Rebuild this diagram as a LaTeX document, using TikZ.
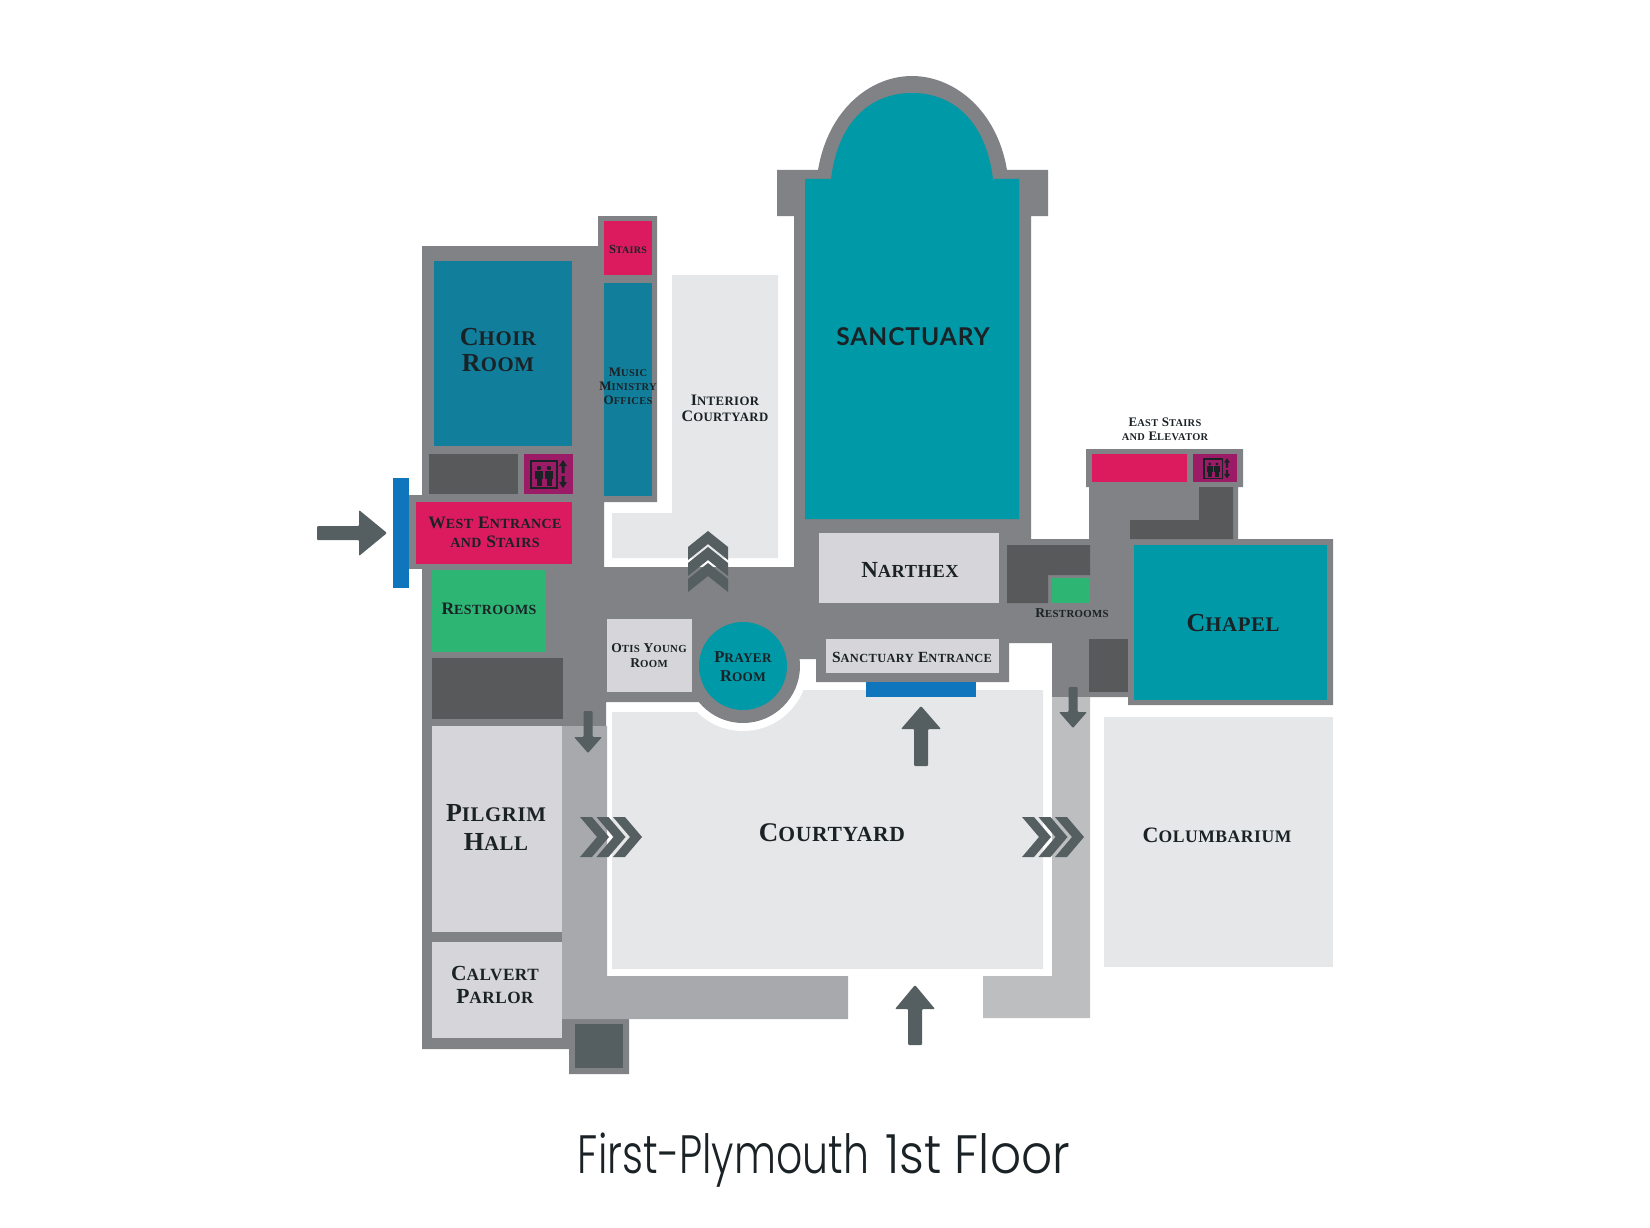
\documentclass[tikz,border=0pt]{standalone}
\usepackage{fontspec}
\setmainfont[LetterSpace=3]{Liberation Serif}
\newfontfamily\titlefont[FakeStretch=.76]{Poppins Light}
\newfontfamily\titlefontb[FakeStretch=.9]{Poppins Light}
\newfontfamily\flarefont[LetterSpace=4]{Lato}
\definecolor{wallgray}{HTML}{808285}
\definecolor{aislegray}{HTML}{A7A9AC}
\definecolor{aislepale}{HTML}{BCBEC0}
\definecolor{darkgray}{HTML}{58595B}
\definecolor{slategray}{HTML}{555F61}
\definecolor{roomlight}{HTML}{D6D5D9}
\definecolor{yardlight}{HTML}{E6E7E8}
\definecolor{teal1}{HTML}{0099A8}
\definecolor{teal2}{HTML}{117E9B}
\definecolor{pinkred}{HTML}{DB1B5E}
\definecolor{liftplum}{HTML}{9B1B66}
\definecolor{restgreen}{HTML}{2DB574}
\definecolor{doorblue}{HTML}{0F75BC}
\definecolor{inkdark}{HTML}{1A2226}
\makeatletter
\newcommand{\smc}[1]{{\fontsize{\dimexpr 0.8\dimexpr\f@size pt\relax\relax}{0pt}\selectfont #1}}
\makeatother
\newcommand{\blockarrow}[7]{\fill[slategray,rounded corners=1pt,shift={(#1,#2)},rotate=#3] (0,-#7)--(#4-#5,-#7)--(#4-#5,-#6)--(#4,0)--(#4-#5,#6)--(#4-#5,#7)--(0,#7)--cycle;}
\tikzset{
    lbl/.style n args={2}{text=inkdark,align=center,inner sep=0pt,font=\bfseries\fontsize{#1}{#2}\selectfont},
    elevicon/.pic={
        \draw[inkdark,line width=1.1pt] (0,0) rectangle (26,27);
        \foreach \px in {8,18} {
            \fill[inkdark] (\px,7) circle (2.2);
            \fill[inkdark] (\px-4,10) rectangle (\px+4,18);
            \fill[inkdark] (\px-2.5,18) rectangle (\px+2.5,25);
        }
        \fill[inkdark] (32,-1)--(36,5)--(33.5,5)--(33.5,12)--(30.5,12)--(30.5,5)--(28,5)--cycle;
        \fill[inkdark] (32,27)--(36,21)--(33.5,21)--(33.5,15)--(30.5,15)--(30.5,21)--(28,21)--cycle;
    }
}
\begin{document}
\begin{tikzpicture}[x=1pt,y=-1pt]
    \useasboundingbox (0,0) rectangle (1650,1228);

    \fill[yardlight] (672,275)--(778,275)--(778,558)--(612,558)--(612,513)--(672,513)--cycle;
    \fill[yardlight] (612,712)--(760,712)--(760,690)--(1043,690)--(1043,969)--(612,969)--cycle;
    \fill[yardlight] (1104,717) rectangle (1333,967);
    \fill[white] (743,666) circle (65);

    \fill[wallgray] (422,246)--(598,246)--(598,216)--(657,216)--(657,502)--(604,502)--(604,567)--(794,567)
        --(794,216)--(777,216)--(777,170)--(818,170)
        .. controls (828,110) and (870,76) .. (912,76)
        .. controls (954,76) and (997,110) .. (1007,170)
        --(1048,170)--(1048,216)--(1031,216)--(1031,539)--(1089,539)--(1089,487)--(1086,487)--(1086,449)
        --(1243,449)--(1243,487)--(1238,487)--(1238,539)--(1333,539)--(1333,705)--(1128,705)--(1128,697)
        --(1052,697)--(1052,643)--(1009,643)--(1009,682)--(816,682)--(816,659)--(797,659)--(743,666)
        --(699,702)--(606,702)--(606,726)--(562,726)--(562,1019)--(629,1019)--(629,1074)--(569,1074)
        --(569,1049)--(422,1049)--cycle;
    \fill[wallgray] (409,495) rectangle (430,569);
    \fill[wallgray] (743,666) circle (57);

    \fill[aislegray] (562,726)--(607,726)--(607,976)--(848,976)--(848,1019)--(562,1019)--cycle;
    \fill[aislepale] (1052,697)--(1090,697)--(1090,1018)--(983,1018)--(983,976)--(1052,976)--cycle;

    \fill[doorblue] (393,478) rectangle (409,588);
    \fill[doorblue] (866,682) rectangle (976,697);

    \fill[teal2] (434,261) rectangle (572,446);
    \fill[teal2] (604,283) rectangle (652,496);
    \fill[teal1] (805,179)--(831,179)
        .. controls (838,122) and (870,93) .. (912,93)
        .. controls (954,93) and (986,122) .. (993,179)
        --(1019,179)--(1019,519)--(805,519)--cycle;
    \fill[teal1] (1134,545) rectangle (1327,700);
    \fill[teal1] (743,666) circle (44);

    \fill[pinkred] (604,221) rectangle (652,275);
    \fill[pinkred] (416,502) rectangle (572,564);
    \fill[pinkred] (1092,454) rectangle (1187,482);
    \fill[liftplum] (524,454) rectangle (573,494);
    \fill[liftplum] (1193,454) rectangle (1237,482);

    \fill[restgreen] (432,570) rectangle (546,652);
    \fill[restgreen] (1052,578) rectangle (1090,603);

    \fill[darkgray] (429,454) rectangle (518,494);
    \fill[darkgray] (432,658) rectangle (563,719);
    \fill[darkgray] (1007,545)--(1090,545)--(1090,575)--(1048,575)--(1048,603)--(1007,603)--cycle;
    \fill[darkgray] (1199,487)--(1233,487)--(1233,539)--(1130,539)--(1130,520)--(1199,520)--cycle;
    \fill[darkgray] (1089,639) rectangle (1128,692);
    \fill[slategray] (575,1024) rectangle (623,1068);

    \fill[roomlight] (432,726) rectangle (562,932);
    \fill[roomlight] (432,942) rectangle (562,1038);
    \fill[roomlight] (607,619) rectangle (692,692);
    \fill[roomlight] (819,533) rectangle (999,603);
    \fill[roomlight] (826,639) rectangle (999,673);

    \pic at (531,461) {elevicon};
    \pic[scale=.72] at (1204,459) {elevicon};

    \blockarrow{317}{533}{0}{70}{28}{23}{7}
    \blockarrow{921}{766}{90}{60}{23}{20}{7}
    \blockarrow{915}{1045}{90}{60}{24}{20}{7}
    \blockarrow{588}{711}{-90}{42}{16}{14}{4.5}
    \blockarrow{1073}{687}{-90}{41}{16}{14}{4.5}

    \foreach \cx in {580,596.5,613,1022,1038.5,1055} {
        \fill[slategray] (\cx,817)--(\cx+12,817)--(\cx+29,837)--(\cx+12,857)--(\cx,857)--(\cx+17,837)--cycle;
    }
    \foreach \cy in {531,547,563} {
        \fill[slategray] (708,\cy)--(728,\cy+16)--(728,\cy+29)--(708,\cy+13)--(688,\cy+29)--(688,\cy+16)--cycle;
    }

    \node[lbl={26}{26}] (choir) at (498,350) {C\smc{HOIR}\\R\smc{OOM}};
    \node[lbl={12.5}{14}] (stairs) at (628,249) {S\smc{TAIRS}};
    \node[lbl={13}{14}] (music) at (628,386) {M\smc{USIC}\\M\smc{INISTRY}\\O\smc{FFICES}};
    \node[lbl={16}{16}] (intyard) at (725,408) {I\smc{NTERIOR}\\C\smc{OURTYARD}};
    \node[lbl={17.5}{19}] (west) at (495,532) {W\smc{EST} E\smc{NTRANCE}\\\smc{AND} S\smc{TAIRS}};
    \node[lbl={17.5}{18}] (rest1) at (489,609) {R\smc{ESTROOMS}};
    \node[lbl={13.5}{15}] (otis) at (649,656) {O\smc{TIS} Y\smc{OUNG}\\R\smc{OOM}};
    \node[lbl={16.5}{19}] (prayer) at (743,667) {P\smc{RAYER}\\R\smc{OOM}};
    \node[lbl={26}{29}] (pilgrim) at (496,827) {P\smc{ILGRIM}\\H\smc{ALL}};
    \node[lbl={21.5}{23}] (calvert) at (495,985) {C\smc{ALVERT}\\P\smc{ARLOR}};
    \node[lbl={27}{27}] (yard) at (832,833) {C\smc{OURTYARD}};
    \node[lbl={25}{25},font=\flarefont\bfseries\fontsize{24.5}{24}\selectfont] (sanct) at (913,337) {SANCTUARY};
    \node[lbl={23}{23}] (narthex) at (910,570) {N\smc{ARTHEX}};
    \node[lbl={15.5}{17}] (entr) at (912,657) {S\smc{ANCTUARY} E\smc{NTRANCE}};
    \node[lbl={26}{26}] (chapel) at (1233,623) {C\smc{HAPEL}};
    \node[lbl={13.5}{13.5}] (rest2) at (1072,613) {R\smc{ESTROOMS}};
    \node[lbl={13}{14}] (east) at (1165,429) {E\smc{AST} S\smc{TAIRS}\\\smc{AND} E\smc{LEVATOR}};
    \node[lbl={22}{22}] (column) at (1217,835) {C\smc{OLUMBARIUM}};
    \node[text=inkdark,inner sep=0pt,font=\titlefont\fontsize{54}{54}\selectfont] (title) at (824,1160) {First-Plymouth\hspace{5pt} {\titlefontb 1st Floor}};
\end{tikzpicture}
\end{document}
